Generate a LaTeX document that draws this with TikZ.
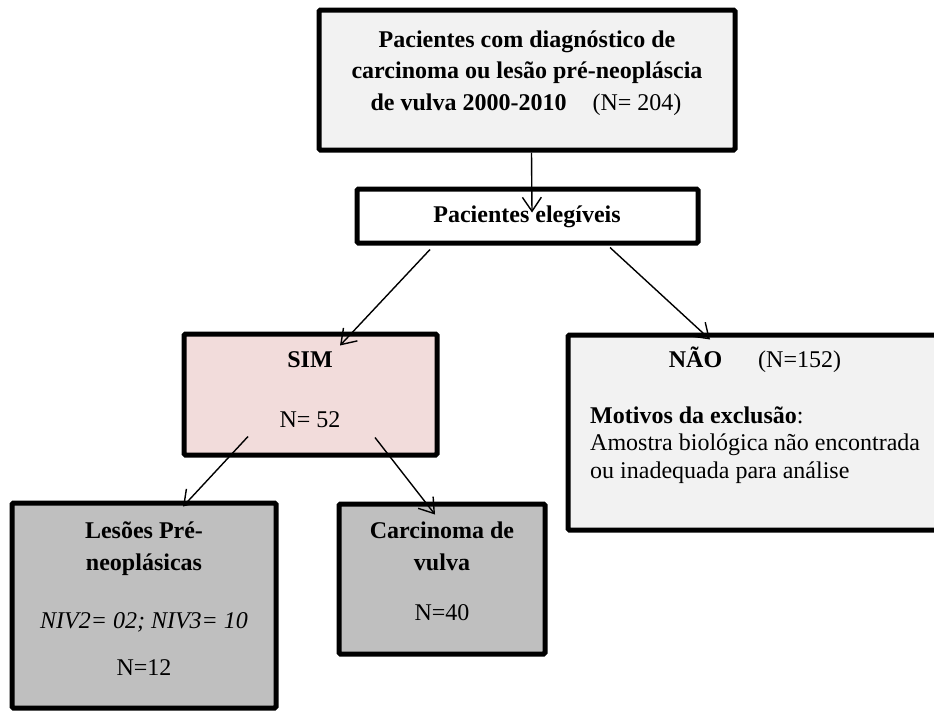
\documentclass[tikz,border=0pt]{standalone}
\usepackage{fontspec}
\setmainfont{Liberation Serif}
\usetikzlibrary{arrows.meta,calc}
\definecolor{lightg}{HTML}{F2F2F2}
\definecolor{pinkb}{HTML}{F2DCDB}
\definecolor{midg}{HTML}{BFBFBF}
\begin{document}
\begin{tikzpicture}[x=1pt,y=-1pt,
  box/.style={draw=black,line width=5pt,rounded corners=1.5pt,inner sep=0pt},
  txt/.style={font=\fontsize{24}{27.5}\selectfont,anchor=base,inner sep=0pt},
  ltxt/.style={txt,anchor=base west},
  arr/.style={line width=1.4pt,-{Straight Barb[length=14pt,width=19pt,line width=1.4pt]}}]
\useasboundingbox (0,0) rectangle (934,710);
% boxes
\node[box,fill=lightg,minimum width=416pt,minimum height=140pt] (top) at (527,80) {};
\node[box,fill=white,minimum width=341pt,minimum height=54pt] (elig) at (527.5,216) {};
\node[box,fill=pinkb,minimum width=253pt,minimum height=121pt] (sim) at (310.5,394.5) {};
\node[box,fill=lightg,minimum width=374pt,minimum height=195pt] (nao) at (755,432.5) {};
\node[box,fill=midg,minimum width=264pt,minimum height=205pt] (les) at (144,605.5) {};
\node[box,fill=midg,minimum width=206pt,minimum height=150pt] (carc) at (442,579) {};
% texts
\node[txt] (t1) at (527,47) {\textbf{Pacientes com diagnóstico de}};
\node[txt] (t2) at (527,78) {\textbf{carcinoma ou lesão pré-neopláscia}};
\node[txt] (t3) at (526,110) {\textbf{de vulva 2000-2010}\hspace{26pt}(N= 204)};
\node[txt] (te) at (527,222) {\textbf{Pacientes elegíveis}};
\node[txt] (ts1) at (310,367) {\textbf{SIM}};
\node[txt] (ts2) at (310,427) {N= 52};
\node[txt] (tn1) at (755,367) {\textbf{NÃO}\hspace{36pt}(N=152)};
\node[ltxt] (tn2) at (590,423) {\textbf{Motivos da exclusão}:};
\node[ltxt] (tn3) at (590,450) {Amostra biológica não encontrada};
\node[ltxt] (tn4) at (590,478) {ou inadequada para análise};
\node[txt] (tl1) at (144,538) {\textbf{Lesões Pré-}};
\node[txt] (tl2) at (144,570) {\textbf{neoplásicas}};
\node[txt] (tl3) at (144,628) {\textit{NIV2= 02; NIV3= 10}};
\node[txt] (tl4) at (144,675) {N=12};
\node[txt] (tc1) at (442,538) {\textbf{Carcinoma de}};
\node[txt] (tc2) at (442,570) {\textbf{vulva}};
\node[txt] (tc3) at (442,620) {N=40};
% arrows
\draw[arr] ([xshift=4.5pt]top.south) -- ([xshift=4.5pt,yshift=-26pt]elig.north);
\draw[arr] ([xshift=-97.5pt,yshift=-4pt]elig.south) -- ([xshift=29.5pt,yshift=-14pt]sim.north);
\draw[arr] ([xshift=82.5pt,yshift=-2pt]elig.south) -- ([xshift=-45pt,yshift=-7pt]nao.north);
\draw[arr] ([xshift=-62.5pt,yshift=21pt]sim.south) -- ([xshift=39pt,yshift=-6pt]les.north);
\draw[arr] ([xshift=64.5pt,yshift=20pt]sim.south) -- ([xshift=-7pt,yshift=-13pt]carc.north);
\end{tikzpicture}
\end{document}
